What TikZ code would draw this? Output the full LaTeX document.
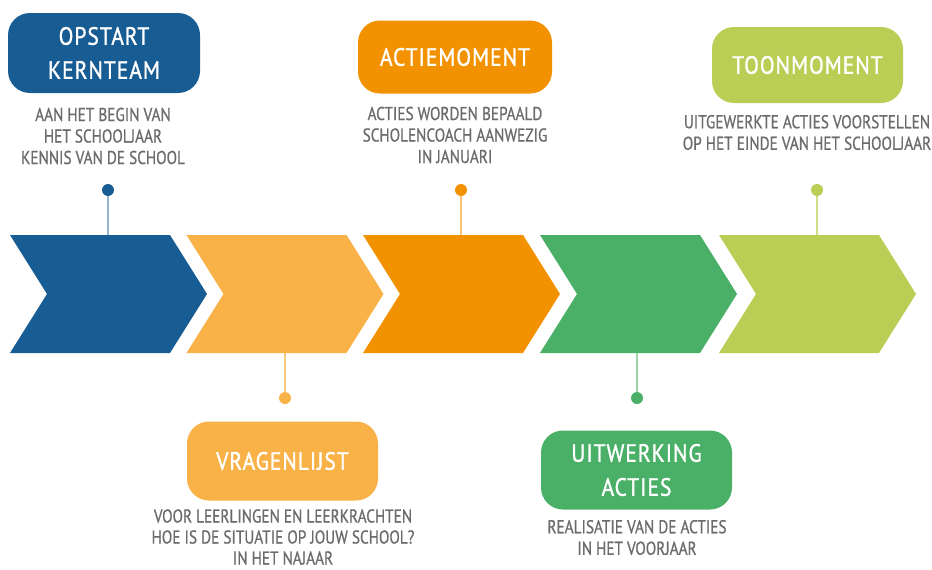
\documentclass[tikz,border=0pt]{standalone}
\usepackage{fontspec}
\setmainfont{PT Sans}[FakeStretch=0.85]
\newfontfamily\descfont{PT Sans}[FakeStretch=0.82,FakeBold=0.8]
\newfontfamily\titlefont{PT Sans}[FakeStretch=0.86,FakeBold=1.2,LetterSpace=4]
\definecolor{cblue}{HTML}{185C94}
\definecolor{clight}{HTML}{F9B247}
\definecolor{corange}{HTML}{F39200}
\definecolor{cgreen}{HTML}{4BB067}
\definecolor{clime}{HTML}{BACE55}
\definecolor{cgray}{HTML}{6B6B6B}
\tikzset{
  chev/.style={fill=#1, draw=none},
  titlebox/.style={fill=#1, draw=none, rounded corners=22pt, text=white, align=center,
    inner sep=0pt, font=\titlefont\fontsize{25}{34}\selectfont},
  desc/.style={text=cgray, align=center, inner sep=0pt, font=\descfont\fontsize{18.6}{21.5}\selectfont},
  dotnode/.style={circle, fill=#1, draw=none, minimum size=12pt, inner sep=0pt},
  stem/.style={draw=#1, line width=1.3pt}
}
\begin{document}
\begin{tikzpicture}[x=1pt,y=-1pt]
\useasboundingbox (0,0) rectangle (932,570);
% chevrons
\foreach \L/\c/\n in {10/cblue/1,186.5/clight/2,363/corange/3,540/cgreen/4,719/clime/5}{
  \fill[chev=\c] (\L,235) -- (\L+160,235) -- (\L+197,294) -- (\L+160,353) -- (\L,353) -- (\L+37,294) -- cycle;
  \coordinate (top\n) at (\L+98,235);
  \coordinate (bot\n) at (\L+98,353);
}
% dots
\node[dotnode=cblue] (d1) at (108,190) {};
\node[dotnode=clight] (d2) at (285,398) {};
\node[dotnode=corange] (d3) at (461,190) {};
\node[dotnode=cgreen] (d4) at (637,398) {};
\node[dotnode=clime] (d5) at (817,190) {};
% stems
\draw[stem=cblue!45] (d1) -- (d1 |- top1);
\draw[stem=clight!70] (d2) -- (d2 |- bot2);
\draw[stem=corange!55] (d3) -- (d3 |- top3);
\draw[stem=cgreen!55] (d4) -- (d4 |- bot4);
\draw[stem=clime!70] (d5) -- (d5 |- top5);
% boxes
\node[titlebox=cblue, minimum width=192pt, minimum height=80pt] (b1) at (104,53) {OPSTART\\KERNTEAM};
\node[titlebox=corange, minimum width=194pt, minimum height=73pt] (b3) at (455,57) {ACTIEMOMENT};
\node[titlebox=clime, minimum width=191pt, minimum height=76pt] (b5) at (807.5,65) {TOONMOMENT};
\node[titlebox=clight, minimum width=191pt, minimum height=79pt] (b2) at (282.5,461) {VRAGENLIJST};
\node[titlebox=cgreen, minimum width=191pt, minimum height=79pt] (b4) at (636.5,470) {UITWERKING\\ACTIES};
% descriptions
\node[desc] (t1) at (103,136) {AAN HET BEGIN VAN\\HET SCHOOLJAAR\\KENNIS VAN DE SCHOOL};
\node[desc] (t3) at (455,135) {ACTIES WORDEN BEPAALD\\SCHOLENCOACH AANWEZIG\\IN JANUARI};
\node[desc] (t5) at (807,132.5) {UITGEWERKTE ACTIES VOORSTELLEN\\OP HET EINDE VAN HET SCHOOLJAAR};
\node[desc, font=\descfont\fontsize{18.6}{21}\selectfont] (t2) at (283,537) {VOOR LEERLINGEN EN LEERKRACHTEN\\HOE IS DE SITUATIE OP JOUW SCHOOL?\\IN HET NAJAAR};
\node[desc] (t4) at (637,537.5) {REALISATIE VAN DE ACTIES\\IN HET VOORJAAR};
\end{tikzpicture}
\end{document}
